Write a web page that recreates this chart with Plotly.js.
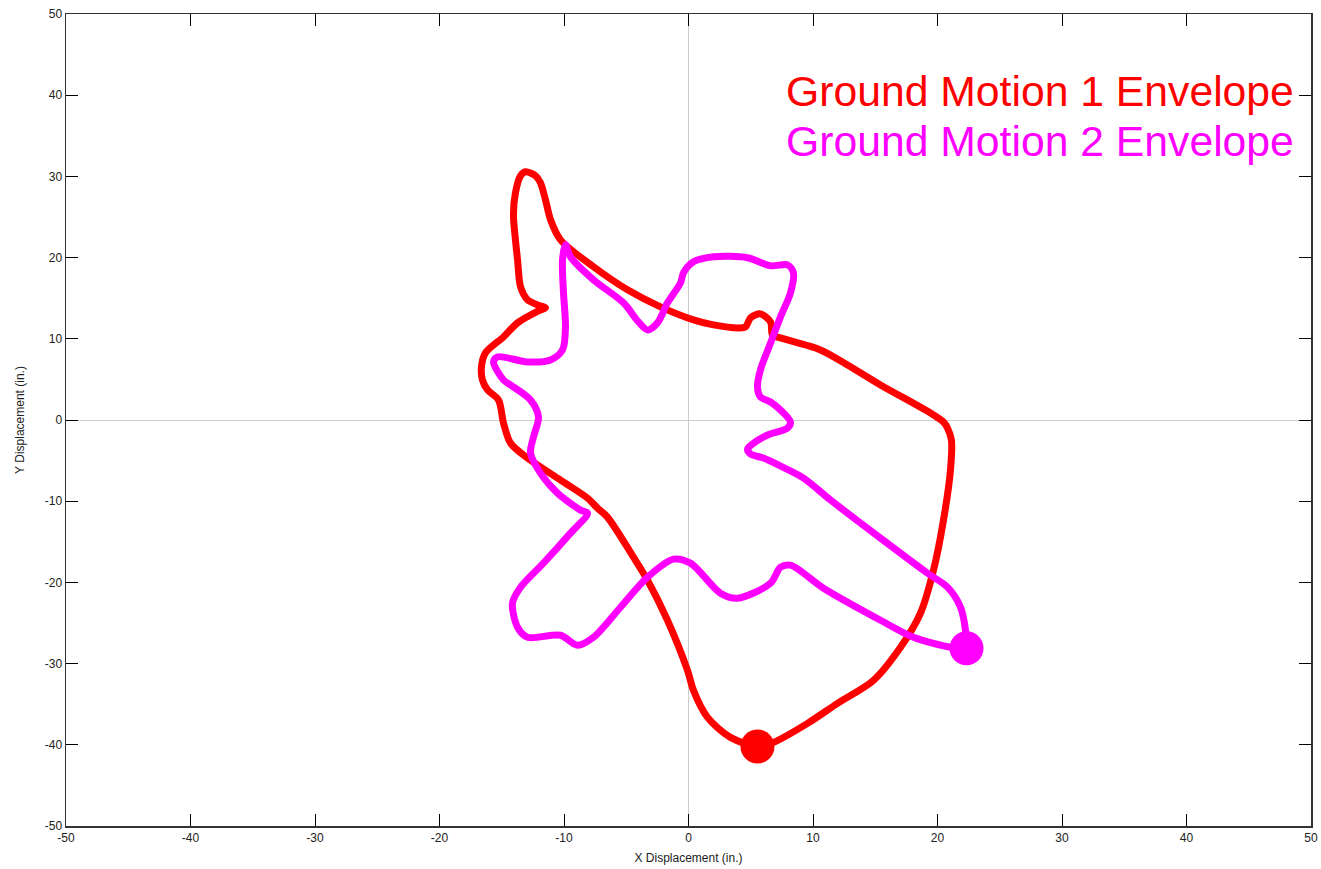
<!DOCTYPE html>
<html>
<head>
<meta charset="utf-8">
<script src="https://cdn.plot.ly/plotly-3.0.1.min.js"></script>
<style>html,body{margin:0;padding:0;background:#fff;}#chart{width:1321px;height:869px;}</style>
</head>
<body>
<div id="chart"></div>
<script>
// Ground Motion 1 envelope (red) — closed path starting/ending at the marker
const gm1X = [5.54, 6.83, 9.56, 11.97, 14.86, 17.03, 18.63, 19.68, 20.48, 21.04, 21.12, 20.80, 20.48, 19.44, 15.42, 12.77, 10.60, 7.39, 6.75, 6.59, 5.78, 4.98, 4.58, 4.02, 2.01, 0.40, -2.25, -4.90, -7.63, -10.28, -11.08, -11.49, -11.89, -12.29, -13.09, -13.49, -13.90, -14.06, -13.90, -13.73, -13.49, -12.93, -12.13, -11.49, -12.05, -13.73, -14.86, -16.31, -16.63, -16.55, -16.14, -15.26, -14.86, -14.30, -12.93, -10.28, -8.11, -7.31, -6.51, -4.42, -3.29, -1.69, -0.08, 0.40, 1.53, 3.37, 5.54];
const gm1Y = [-40.20, -39.70, -37.36, -34.89, -32.06, -27.99, -23.80, -18.50, -12.33, -6.17, -2.47, -0.99, -0.25, 0.86, 4.32, 6.78, 8.63, 10.11, 10.48, 12.08, 13.07, 12.58, 11.47, 11.34, 11.71, 12.33, 13.93, 16.03, 18.87, 22.19, 24.66, 27.13, 29.22, 30.09, 30.58, 30.09, 27.99, 25.28, 22.19, 19.73, 16.40, 14.80, 14.18, 13.81, 13.44, 11.96, 10.23, 8.26, 6.54, 4.93, 3.70, 2.47, -0.37, -2.84, -4.69, -7.40, -9.62, -10.85, -11.96, -16.89, -19.73, -24.66, -30.83, -33.29, -36.62, -39.09, -40.20];

// Ground Motion 2 envelope (magenta)
const gm2X = [22.33, 22.25, 21.85, 20.80, 19.20, 15.42, 11.41, 9.24, 7.39, 6.02, 4.98, 4.74, 5.14, 6.35, 7.95, 8.19, 7.39, 6.59, 5.78, 5.54, 5.78, 6.59, 7.39, 8.19, 8.43, 7.95, 6.59, 4.74, 2.01, 0.40, -0.40, -0.64, -1.69, -2.49, -3.29, -4.02, -5.22, -7.63, -9.48, -9.88, -10.12, -10.04, -9.88, -10.12, -11.08, -12.93, -15.34, -15.66, -14.86, -14.30, -12.69, -12.05, -12.45, -12.69, -11.89, -10.52, -8.67, -8.11, -9.48, -11.65, -13.49, -14.14, -13.73, -12.93, -10.28, -8.92, -7.63, -5.46, -3.29, -1.20, 0.16, 2.57, 3.94, 6.59, 7.39, 8.19, 10.84, 15.42, 18.07, 21.04, 22.33];
const gm2Y = [-28.11, -25.89, -23.06, -20.59, -18.87, -14.55, -9.86, -7.15, -5.67, -4.69, -4.19, -3.58, -2.96, -1.85, -0.99, -0.25, 1.23, 2.22, 2.84, 4.07, 6.17, 9.49, 12.70, 15.66, 18.13, 19.11, 18.99, 19.98, 20.10, 19.48, 18.13, 16.89, 14.43, 11.96, 11.10, 12.08, 14.43, 17.26, 20.10, 21.58, 19.73, 15.66, 11.47, 8.63, 7.40, 7.15, 7.77, 7.15, 4.93, 4.32, 2.47, 0.37, -2.10, -4.07, -6.54, -9.00, -11.10, -11.47, -13.93, -17.63, -20.59, -22.56, -25.52, -26.76, -26.51, -27.74, -26.76, -23.06, -19.36, -17.14, -17.63, -21.33, -21.95, -20.10, -18.13, -17.88, -20.72, -24.66, -26.76, -27.99, -28.11];

const legendLabels = ['Ground Motion 1 Envelope', 'Ground Motion 2 Envelope'];
const seriesColors = ['#ff0000', '#ff00ff'];
const tickVals = [-50, -40, -30, -20, -10, 0, 10, 20, 30, 40, 50];

const traces = [
  {x: gm1X, y: gm1Y, mode: 'lines', line: {color: seriesColors[0], width: 7, shape: 'spline', smoothing: 0.85}, hoverinfo: 'skip'},
  {x: gm2X, y: gm2Y, mode: 'lines', line: {color: seriesColors[1], width: 7, shape: 'spline', smoothing: 0.85}, hoverinfo: 'skip'},
  {x: [gm1X[0]], y: [gm1Y[0]], mode: 'markers', marker: {color: seriesColors[0], size: 34}, hoverinfo: 'skip'},
  {x: [gm2X[0]], y: [gm2Y[0]], mode: 'markers', marker: {color: seriesColors[1], size: 34}, hoverinfo: 'skip'}
];

const axisCommon = {
  range: [-50, 50],
  tickvals: tickVals,
  ticktext: tickVals.map(String),
  ticks: 'inside',
  ticklen: 12,
  tickwidth: 1,
  tickcolor: '#000',
  showline: true,
  linecolor: '#333',
  linewidth: 1.5,
  mirror: 'ticks',
  showgrid: false,
  zeroline: true,
  zerolinecolor: '#cccccc',
  zerolinewidth: 1,
  tickfont: {family: 'Liberation Sans, Arial, sans-serif', size: 12, color: '#222'},
  fixedrange: true
};

const layout = {
  width: 1321,
  height: 869,
  margin: {l: 66, r: 10, t: 14, b: 43},
  paper_bgcolor: '#fff',
  plot_bgcolor: '#fff',
  showlegend: false,
  xaxis: Object.assign({}, axisCommon, {
    title: {text: 'X Displacement (in.)', font: {family: 'Liberation Sans, Arial, sans-serif', size: 12, color: '#222'}, standoff: 9}
  }),
  yaxis: Object.assign({}, axisCommon, {
    title: {text: 'Y Displacement (in.)', font: {family: 'Liberation Sans, Arial, sans-serif', size: 12, color: '#222'}, standoff: 17}
  }),
  annotations: [
    {text: legendLabels[0], xref: 'paper', yref: 'paper', x: 0.988, y: 0.905, xanchor: 'right', yanchor: 'middle', showarrow: false, font: {family: 'Liberation Sans, Arial, sans-serif', size: 42.7, color: seriesColors[0]}},
    {text: legendLabels[1], xref: 'paper', yref: 'paper', x: 0.988, y: 0.8436, xanchor: 'right', yanchor: 'middle', showarrow: false, font: {family: 'Liberation Sans, Arial, sans-serif', size: 42.7, color: seriesColors[1]}}
  ]
};

Plotly.newPlot('chart', traces, layout, {displayModeBar: false, staticPlot: true});
</script>
</body>
</html>
